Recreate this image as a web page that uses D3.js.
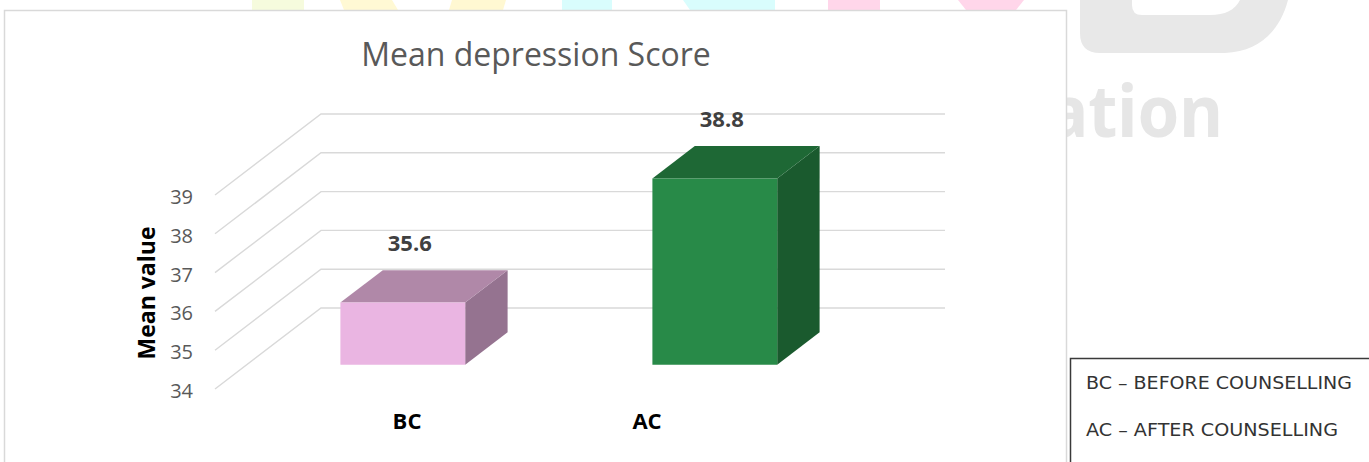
<!DOCTYPE html>
<html>
<head>
<meta charset="utf-8">
<script src="https://cdn.jsdelivr.net/npm/d3@7"></script>
<style>
  html, body { margin: 0; padding: 0; background: #ffffff; }
  svg { display: block; }
</style>
</head>
<body>
<svg id="chart" width="1369" height="462"></svg>
<script>
// ---- data ----
const categories = ["BC", "AC"];
const meanScores = [35.6, 38.8];
const yTickValues = [34, 35, 36, 37, 38, 39];
const chartTitle = "Mean depression Score";
const yAxisTitle = "Mean value";
const legendLines = ["BC \u2013 BEFORE COUNSELLING", "AC \u2013 AFTER COUNSELLING"];

// ---- styling ----
const faceColors = [
  { front: "#eab5e2", top: "#b088a8", side: "#957390" },
  { front: "#288a48", top: "#1e6835", side: "#1a5a2e" }
];
const gridColor = "#d9d9d9";
const legendWidths = [266, 252];

const svg = d3.select("#chart");

// ---- faint background logo fragments ----
const bg = svg.append("g").attr("class", "backdrop");
const patches = [
  { pts: [[252, 0], [304, 0], [304, 10], [252, 10]], fill: "#f6fbdd" },
  { pts: [[340, 0], [392, 0], [398, 10], [344, 10]], fill: "#fff9d4" },
  { pts: [[452, 0], [506, 0], [503, 10], [449, 10]], fill: "#fff8d2" },
  { pts: [[562, 0], [612, 0], [612, 10], [562, 10]], fill: "#d9fdfd" },
  { pts: [[683, 0], [775, 0], [775, 10], [690, 10]], fill: "#d9fdfd" },
  { pts: [[828, 0], [880, 0], [880, 10], [828, 10]], fill: "#ffd6ea" },
  { pts: [[958, 0], [1024, 0], [1016, 10], [966, 10]], fill: "#ffd6ea" }
];
bg.selectAll("polygon.patch").data(patches).join("polygon")
  .attr("class", "patch")
  .attr("points", d => d.pts.map(p => p.join(",")).join(" "))
  .attr("fill", d => d.fill);

// large rounded "D" shape with its counter
bg.append("path")
  .attr("d", "M1080,0 L1288,0 C1280,30 1260,52 1225,53 L1100,53 Q1080,53 1080,33 Z")
  .attr("fill", "#e8e8e8");
bg.append("path")
  .attr("d", "M1132,0 L1240,0 C1235,10 1225,15 1210,15 L1142,15 Q1132,15 1132,5 Z")
  .attr("fill", "#ffffff");
bg.append("text")
  .attr("x", 1048).attr("y", 137)
  .attr("font-family", "'Noto Sans', sans-serif")
  .attr("font-weight", 700)
  .attr("font-size", 72)
  .attr("textLength", 175)
  .attr("lengthAdjust", "spacingAndGlyphs")
  .attr("fill", "#e6e6e6")
  .text("ation");

// ---- chart frame ----
svg.append("rect")
  .attr("x", 4.5).attr("y", 10.5)
  .attr("width", 1062).attr("height", 470)
  .attr("fill", "#ffffff")
  .attr("stroke", gridColor)
  .attr("stroke-width", 1.5);

// ---- scales (front plane of the 3D floor) ----
const y = d3.scaleLinear().domain([34, 39]).range([389, 195]);
const x = d3.scaleBand().domain(categories).range([215, 839]).padding(0);
const labelX = d3.scaleBand().domain(categories).range([287, 767]).padding(0);

// oblique depth: full floor depth shifts points right and up
const depthDX = 106, depthDY = 81;
const project = (px, py, d) => [px + d * depthDX, py - d * depthDY];
const barFrontDepth = 0.3, barBackDepth = 0.7;
const barWidthRatio = 0.4;

// ---- gridlines: side wall diagonals + back wall horizontals ----
const grid = svg.append("g").attr("class", "grid")
  .attr("stroke", gridColor).attr("stroke-width", 1.4).attr("fill", "none");
const backRight = x.range()[1] + depthDX;
grid.selectAll("path").data(yTickValues).join("path")
  .attr("d", v => {
    const f = project(x.range()[0], y(v), 0);
    const b = project(x.range()[0], y(v), 1);
    return `M${f[0]},${f[1]} L${b[0]},${b[1]} L${backRight},${b[1]}`;
  });

// ---- y axis tick labels ----
const yAxis = d3.axisLeft(y).tickValues(yTickValues).tickFormat(d3.format("d"))
  .tickSize(0).tickPadding(4);
const axisG = svg.append("g").attr("transform", "translate(197,2)").call(yAxis);
axisG.select(".domain").remove();
axisG.selectAll("text")
  .attr("font-family", "'Open Sans', sans-serif")
  .attr("font-size", 20)
  .attr("fill", "#595959");

// ---- 3D bars ----
const bars = svg.append("g").attr("class", "bars");
categories.forEach((c, i) => {
  const v = meanScores[i];
  const bw = x.bandwidth() * barWidthRatio;
  const x0 = x(c) + (x.bandwidth() - bw) / 2;
  const x1 = x0 + bw;
  const yb = y(34), yt = y(v);
  const fTL = project(x0, yt, barFrontDepth), fTR = project(x1, yt, barFrontDepth);
  const fBL = project(x0, yb, barFrontDepth), fBR = project(x1, yb, barFrontDepth);
  const bTL = project(x0, yt, barBackDepth), bTR = project(x1, yt, barBackDepth);
  const bBR = project(x1, yb, barBackDepth);
  const poly = pts => pts.map(p => p.join(",")).join(" ");
  const g = bars.append("g");
  g.append("polygon").attr("points", poly([fTR, bTR, bBR, fBR])).attr("fill", faceColors[i].side);
  g.append("polygon").attr("points", poly([fTL, bTL, bTR, fTR])).attr("fill", faceColors[i].top);
  g.append("polygon").attr("points", poly([fTL, fTR, fBR, fBL])).attr("fill", faceColors[i].front);

  // value label above the bar
  svg.append("text")
    .attr("x", (fTL[0] + fTR[0]) / 2 + 7)
    .attr("y", bTL[1] - 28)
    .attr("text-anchor", "middle")
    .attr("dominant-baseline", "central")
    .attr("font-family", "'Open Sans', sans-serif")
    .attr("font-weight", 700)
    .attr("font-size", 22)
    .attr("fill", "#404040")
    .text(v.toFixed(1));
});

// ---- category labels ----
svg.append("g").selectAll("text").data(categories).join("text")
  .attr("x", d => labelX(d) + labelX.bandwidth() / 2)
  .attr("y", 420)
  .attr("text-anchor", "middle")
  .attr("dominant-baseline", "central")
  .attr("font-family", "'Open Sans', sans-serif")
  .attr("font-weight", 700)
  .attr("font-size", 22)
  .attr("fill", "#000000")
  .text(d => d);

// ---- axis title ----
svg.append("text")
  .attr("transform", "translate(146,293) rotate(-90)")
  .attr("text-anchor", "middle")
  .attr("dominant-baseline", "central")
  .attr("font-family", "'Open Sans', sans-serif")
  .attr("font-weight", 700)
  .attr("font-size", 23)
  .attr("fill", "#000000")
  .text(yAxisTitle);

// ---- chart title ----
svg.append("text")
  .attr("x", 536).attr("y", 66)
  .attr("text-anchor", "middle")
  .attr("font-family", "'Open Sans', sans-serif")
  .attr("font-size", 32)
  .attr("fill", "#595959")
  .text(chartTitle);

// ---- abbreviation key ----
svg.append("rect")
  .attr("x", 1070.5).attr("y", 358.5)
  .attr("width", 320).attr("height", 130)
  .attr("fill", "#ffffff")
  .attr("stroke", "#3a3a3a")
  .attr("stroke-width", 1.5);
svg.append("g").selectAll("text").data(legendLines).join("text")
  .attr("x", 1086)
  .attr("y", (d, i) => 382 + i * 47)
  .attr("dominant-baseline", "central")
  .attr("font-family", "'DejaVu Sans', sans-serif")
  .attr("font-size", 18)
  .attr("textLength", (d, i) => legendWidths[i])
  .attr("lengthAdjust", "spacingAndGlyphs")
  .attr("fill", "#333333")
  .text(d => d);
</script>
</body>
</html>
